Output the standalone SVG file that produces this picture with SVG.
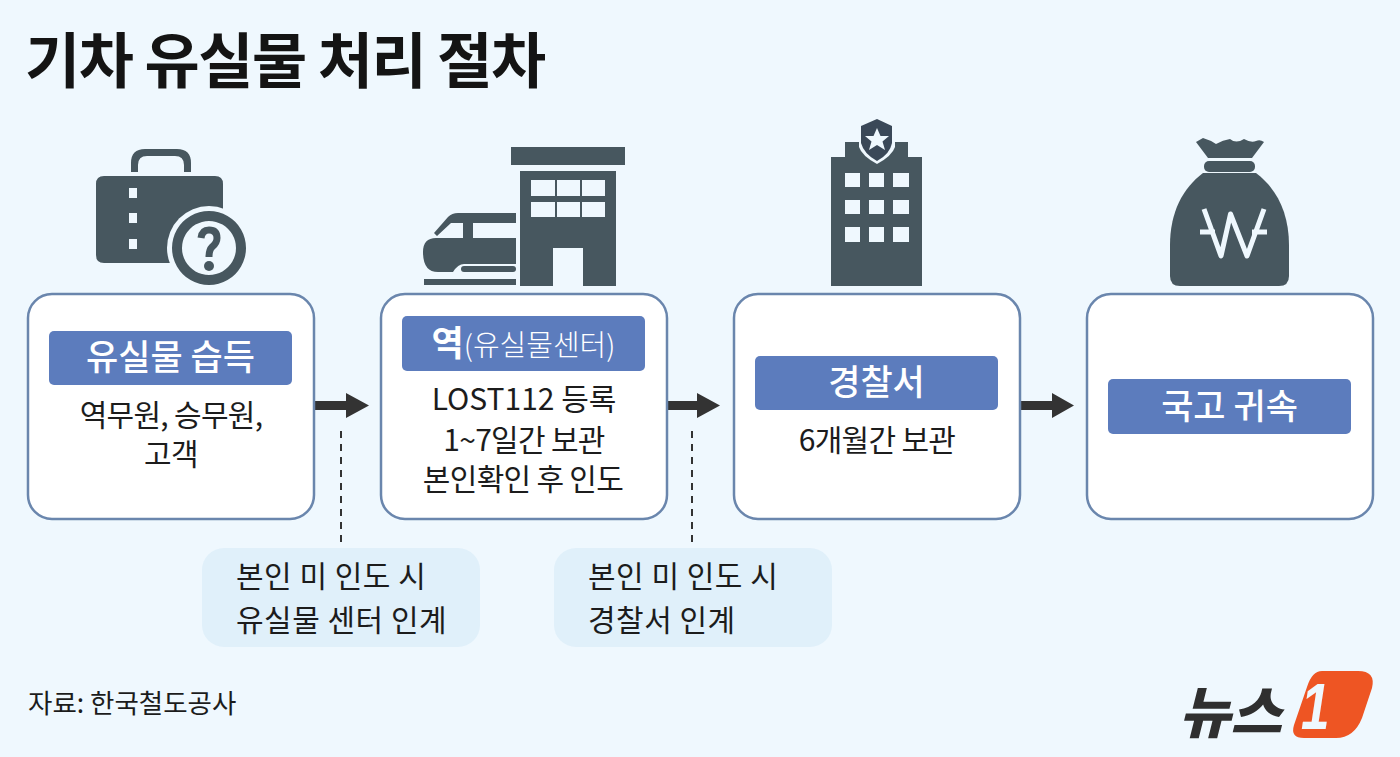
<svg xmlns="http://www.w3.org/2000/svg" width="1400" height="757" viewBox="0 0 1400 757">
<style>
text{font-family:"Noto Sans CJK KR","Noto Sans",sans-serif;fill:#1c1c1c}
.title{font-size:60px;font-weight:700;fill:#141414;letter-spacing:-1.500px}
.box{fill:#fff;stroke:#6a86ad;stroke-width:2.5}
.bar{fill:#5c7cbd}
.h{font-size:35px;font-weight:500;fill:#fff;text-anchor:middle}
.b{font-size:30px;font-weight:400;text-anchor:middle;letter-spacing:-.7px}
.c{font-size:30px;font-weight:400;letter-spacing:.5px}
.ic{fill:#47575f}
.bg{fill:#eff8fe}
.call{fill:#e0f0fa}
.dash{stroke:#333;stroke-width:2;stroke-dasharray:7 6;fill:none}
.arr{fill:#333}
</style>
<rect class="bg" width="1400" height="757"/>
<text class="title" x="25" y="83">기차 유실물 처리 절차</text>

<g id="connectors">
<path class="arr" d="M315 401H346V393L369 405.500L346 418V410H315Z"/>
<path class="arr" d="M668 401H697V393L720 405.500L697 418V410H668Z"/>
<path class="arr" d="M1021 401H1052V393L1074 405.500L1052 418V410H1021Z"/>
<path class="dash" d="M341 431V542"/>
<path class="dash" d="M692 431V542"/>
</g>

<g id="icon-lost">
<path class="ic" d="M131 172V163Q131 149 145 149H177Q191 149 191 163V172H184V165Q184 156 175 156H147Q138 156 138 165V172Z"/>
<path class="ic" fill-rule="evenodd" d="M104 176H215Q223 176 223 184V263H104Q96 263 96 255V184Q96 176 104 176ZM129 188V198H137V188ZM129 213V223H137V213ZM129 239V249H137V239Z"/>
<circle class="bg" cx="209" cy="248" r="42"/>
<path class="ic" fill-rule="evenodd" d="M209 211a37 37 0 1 0 .01 0ZM209 221a27 27 0 1 1-.01 0Z"/>
<path d="M201 238Q202 230 209 230Q217 230 217 238Q217 243 212 247Q209 250 209 257" fill="none" stroke="#47575f" stroke-width="7"/>
<circle class="ic" cx="209" cy="266" r="5"/>
</g>
<g id="icon-station">
<rect class="ic" x="511" y="147" width="114" height="18"/>
<path class="ic" fill-rule="evenodd" d="M520 171H616V286H583V248H553V286H520ZM531 180V196H555V180ZM557 180V196H580V180ZM582 180V196H605V180ZM531 202V217H555V202ZM557 202V217H580V202ZM582 202V217H605V202Z"/>
<path class="ic" d="M516 213V223H473V238H516V264H464Q458 264 453 272H438Q423 272 423 252Q423 238 436 238H463V223H451L437 236L434 233L448 217Q452 213 458 213Z"/>
<rect class="ic" x="461" y="266" width="55" height="6" rx="3"/>
<rect class="ic" x="424" y="279" width="92" height="6"/>
</g>
<g id="icon-police">
<path class="ic" d="M845 142H908V157H922V286H831V157H845Z"/>
<path class="bg" d="M845 173h15v14h-15zM869 173h15v14h-15zM893 173h16v14h-16zM845 200h15v14h-15zM869 200h15v14h-15zM893 200h16v14h-16zM845 227h15v15h-15zM869 227h15v15h-15zM893 227h16v15h-16z"/>
<path class="bg" d="M859 140V147Q862 156 877 164Q892 156 895 147V140Z"/>
<path fill="#3a4858" d="M877 119L892 126V143Q890 154 877 161Q864 154 861 143V126Z"/>
<path fill="#eff8fe" d="M877 128L880.500 136H889L882.500 141.500L885 150L877 145L869 150L871.500 141.500L865 136H873.500Z"/>
</g>
<g id="icon-bag">
<path class="ic" d="M1196 142L1203 138Q1210 140 1216 144Q1223 140 1230 139Q1236 144 1244 139Q1251 143 1256 141Q1260 139 1264 142L1252 158H1208Z"/>
<rect class="ic" x="1204" y="161" width="51" height="11" rx="5"/>
<path class="ic" d="M1203 173H1256C1276 188 1289 212 1289 245V276Q1289 286 1279 286H1180Q1170 286 1170 276V245C1170 212 1183 188 1203 173Z"/>
<path d="M1204 209L1221 256L1230.500 214L1247 256L1264 209M1200 232H1215M1252 232H1267" fill="none" stroke="#eff8fe" stroke-width="5" stroke-linejoin="round"/>
</g>

<g id="node-1">
<rect class="box" x="28" y="294" width="286" height="225" rx="24"/>
<rect class="bar" x="49" y="331" width="243" height="54" rx="5"/>
<text class="h" x="170.500" y="370">유실물 습득</text>
<text class="b" x="171" y="426">역무원, 승무원,</text>
<text class="b" x="171" y="465">고객</text>
</g>
<g id="node-2">
<rect class="box" x="381" y="294" width="286" height="225" rx="24"/>
<rect class="bar" x="402" y="316" width="243" height="55" rx="5"/>
<text class="h" x="523.500" y="356"><tspan font-weight="700" font-size="35">역</tspan><tspan font-size="29" font-weight="300">(유실물센터)</tspan></text>
<text class="b" x="524" y="410" style="letter-spacing:0">LOST112 등록</text>
<text class="b" x="524" y="451">1~7일간 보관</text>
<text class="b" x="523" y="490">본인확인 후 인도</text>
</g>
<g id="node-3">
<rect class="box" x="734" y="294" width="286" height="225" rx="24"/>
<rect class="bar" x="755" y="356" width="243" height="54" rx="5"/>
<text class="h" x="876.500" y="395">경찰서</text>
<text class="b" x="877" y="451">6개월간 보관</text>
</g>
<g id="node-4">
<rect class="box" x="1087" y="294" width="286" height="225" rx="24"/>
<rect class="bar" x="1108" y="379" width="243" height="55" rx="5"/>
<text class="h" x="1229.500" y="419">국고 귀속</text>
</g>
<g id="note-1">
<rect class="call" x="202" y="548" width="278" height="99" rx="22"/>
<text class="c" x="236" y="587">본인 미 인도 시</text>
<text class="c" x="236" y="631">유실물 센터 인계</text>
</g>
<g id="note-2">
<rect class="call" x="554" y="548" width="278" height="99" rx="22"/>
<text class="c" x="588" y="587">본인 미 인도 시</text>
<text class="c" x="588" y="631">경찰서 인계</text>
</g>
<text x="28" y="713" font-size="26.500" fill="#222">자료: 한국철도공사</text>
<g id="logo">
<text x="1179" y="733" font-size="56" font-weight="900" font-style="italic" style="fill:#2f2f2f">뉴스</text>
<path fill="#ee5523" d="M1322 671H1358Q1376 671 1372 688L1362 718Q1354 738 1336 738H1304Q1290 738 1294 725L1307 687Q1312 671 1322 671Z"/>
<text transform="translate(1301 729) scale(.8 1)" font-size="64" font-weight="700" font-style="italic" style="font-family:'Liberation Sans',sans-serif;fill:#eff8fe">1</text>
</g>
</svg>
